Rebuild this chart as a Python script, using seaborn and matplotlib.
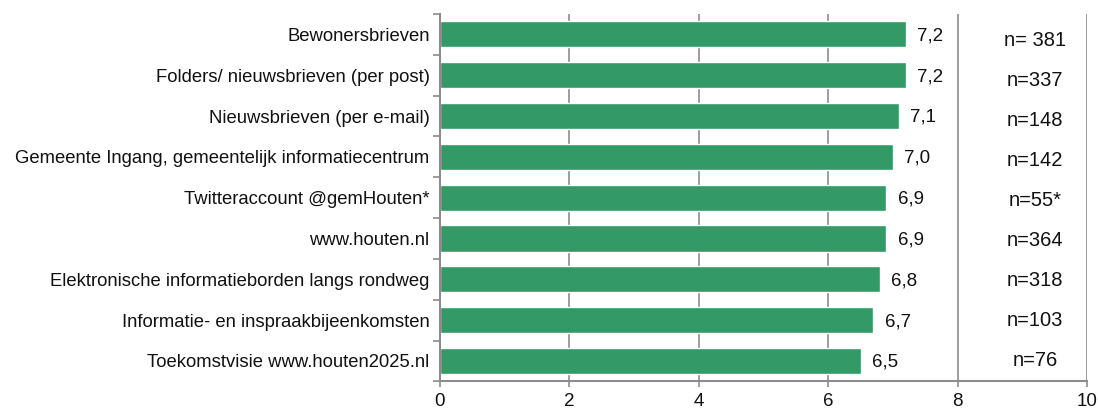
import matplotlib
matplotlib.use("Agg")
import matplotlib.pyplot as plt
import seaborn as sns
import pandas as pd

# data
categories = [
    "Bewonersbrieven",
    "Folders/ nieuwsbrieven (per post)",
    "Nieuwsbrieven (per e-mail)",
    "Gemeente Ingang, gemeentelijk informatiecentrum",
    "Twitteraccount @gemHouten*",
    "www.houten.nl",
    "Elektronische informatieborden langs rondweg",
    "Informatie- en inspraakbijeenkomsten",
    "Toekomstvisie www.houten2025.nl",
]
scores = [7.2, 7.2, 7.1, 7.0, 6.9, 6.9, 6.8, 6.7, 6.5]
n_labels = ["n= 381", "n=337", "n=148", "n=142", "n=55*", "n=364", "n=318", "n=103", "n=76"]

df = pd.DataFrame({"kanaal": categories, "score": scores})

sns.set_style("white")
plt.rcParams["font.family"] = ["Liberation Sans", "DejaVu Sans"]
plt.rcParams["text.color"] = "#111111"

fig = plt.figure(figsize=(10.98, 4.11), dpi=100)
ax = fig.add_axes([0.4007, 0.072, 0.5893, 0.894])

grid_col = "#8c8c8c"
for x in [2, 4, 6, 8, 10]:
    ax.axvline(x, color=grid_col, lw=1.2, zorder=0)

sns.barplot(data=df, x="score", y="kanaal", orient="h", color="#339966",
            width=0.64, saturation=1, ax=ax, zorder=2)

last = len(n_labels) - 1
for i, (v, n) in enumerate(zip(scores, n_labels)):
    ax.annotate(f"{v:.1f}".replace(".", ","), (v, i), xytext=(8, -1),
                textcoords="offset points", va="center", ha="left",
                fontsize=13.5, family=["Liberation Sans", "DejaVu Sans"])
    # the n= column sits in its own table, rows slightly tighter than the bars
    ax.text(9.2, i + 0.16 * (last - i) / last, n, ha="center", va="center",
            fontsize=14.5, family=["Liberation Sans", "DejaVu Sans"])

ax.set_xlim(0, 10)
ax.set_ylim(len(categories) - 0.5, -0.5)
ax.set_xticks([0, 2, 4, 6, 8, 10])
ax.set_xticklabels(["0", "2", "4", "6", "8", "10"], fontsize=13.5)
ax.set_xlabel("")
ax.set_ylabel("")
ax.tick_params(axis="y", which="major", left=False, labelsize=13.3, pad=4,
               labelcolor="#111111")
ax.set_yticks([i - 0.5 for i in range(len(categories) + 1)], minor=True)
ax.tick_params(axis="y", which="minor", left=True, length=5, color=grid_col,
               width=1.2)
ax.tick_params(axis="x", which="major", bottom=True, length=4, color=grid_col,
               width=1.2, direction="out", pad=4, labelcolor="#111111")

for s in ["top", "right"]:
    ax.spines[s].set_visible(False)
for s in ["left", "bottom"]:
    ax.spines[s].set_color(grid_col)
    ax.spines[s].set_linewidth(1.5)

fig.savefig("out.png", dpi=100)
